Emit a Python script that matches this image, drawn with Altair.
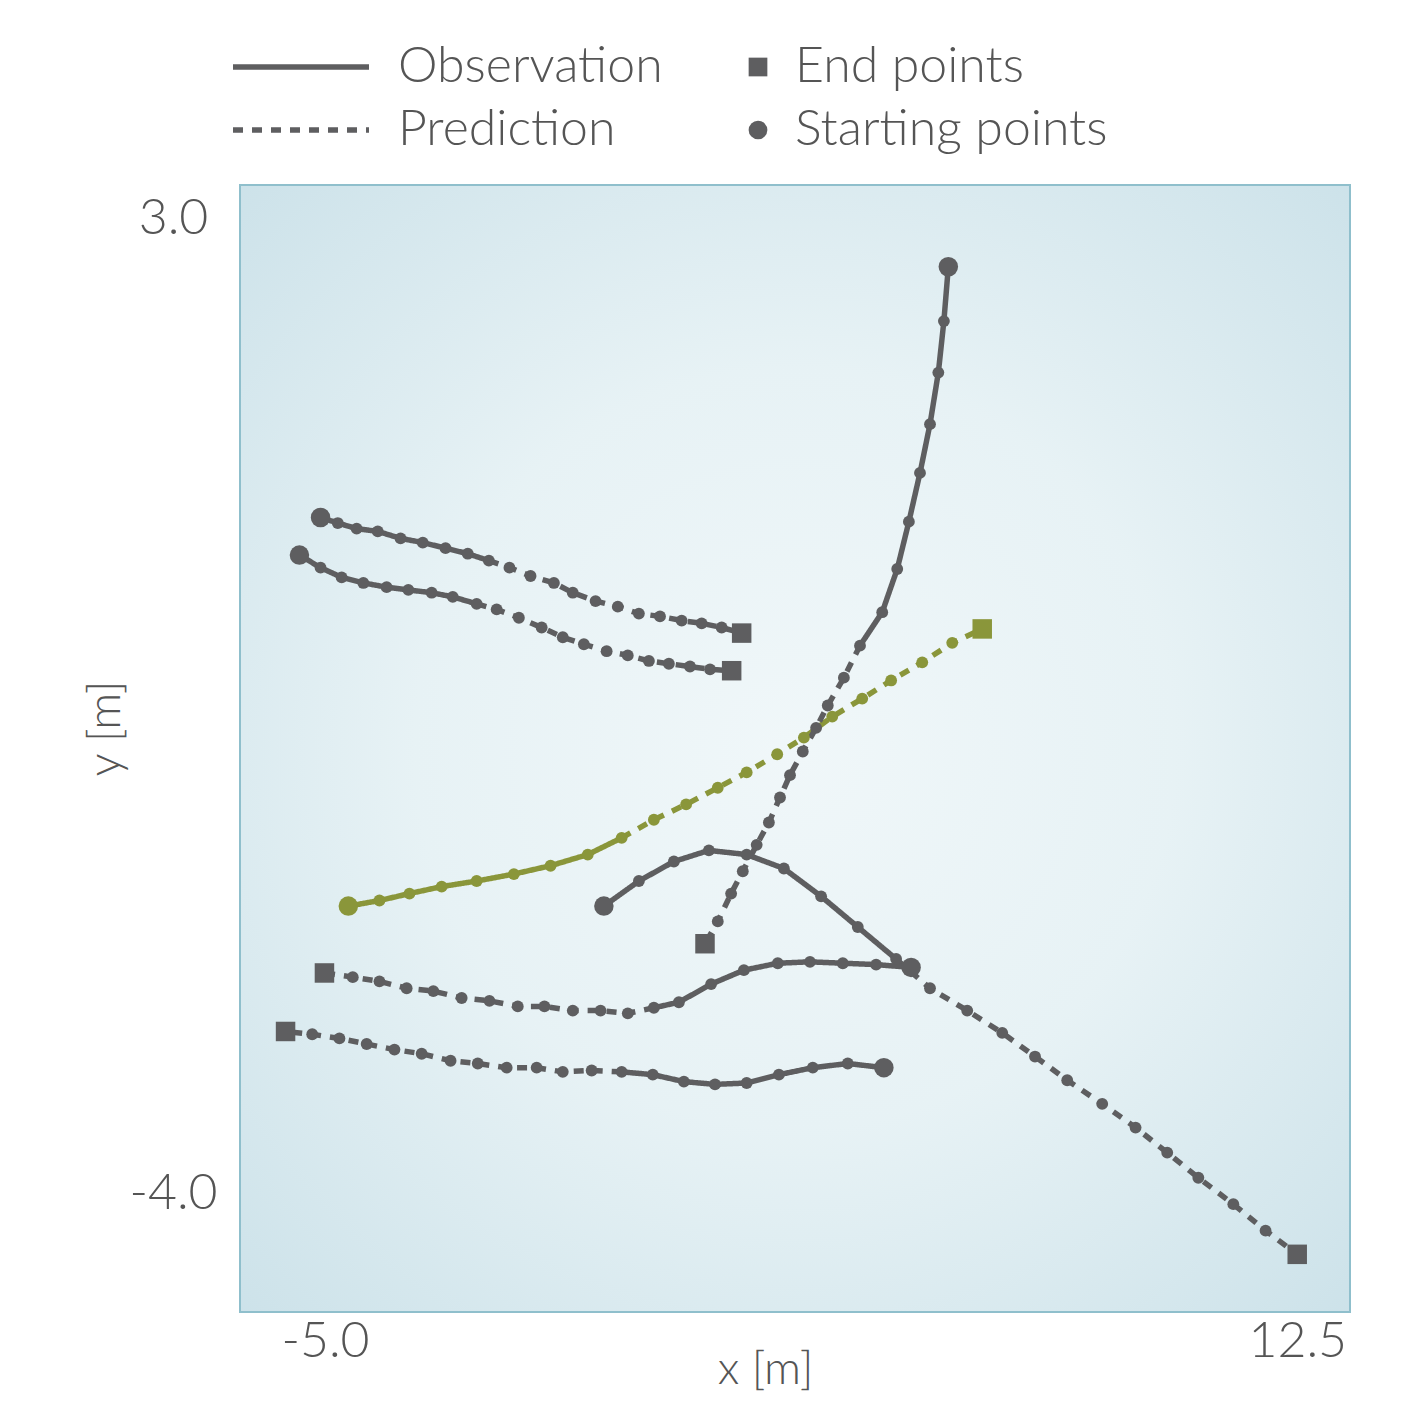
import altair as alt
import pandas as pd

GRAY = "#5e5e60"
GREEN = "#8a963a"
TEXT = "#555555"
FONT = "Lato"

# ---- trajectory data (metres) ----
# A: upper-left pair, upper
a_obs_x = [-5.08, -4.77, -4.43, -4.05, -3.64, -3.24, -2.83, -2.43, -2.05]
a_obs_y = [0.85, 0.81, 0.77, 0.75, 0.70, 0.67, 0.63, 0.59, 0.54]
a_pred_x = [-1.68, -1.30, -0.88, -0.54, -0.13, 0.27, 0.65, 1.03, 1.42, 1.78, 2.14, 2.50]
a_pred_y = [0.49, 0.43, 0.38, 0.31, 0.25, 0.21, 0.16, 0.14, 0.11, 0.09, 0.06, 0.02]
# B: upper-left pair, lower
b_obs_x = [-5.46, -5.08, -4.70, -4.31, -3.89, -3.50, -3.08, -2.70, -2.27]
b_obs_y = [0.58, 0.49, 0.42, 0.38, 0.35, 0.33, 0.31, 0.28, 0.23]
b_pred_x = [-1.91, -1.51, -1.10, -0.72, -0.34, 0.07, 0.45, 0.83, 1.19, 1.57, 1.93, 2.32]
b_pred_y = [0.19, 0.13, 0.06, -0.01, -0.06, -0.11, -0.14, -0.18, -0.20, -0.22, -0.24, -0.25]
# C: highlighted (green)
c_obs_x = [-4.58, -4.02, -3.48, -2.90, -2.27, -1.60, -0.94, -0.27, 0.34]
c_obs_y = [-1.94, -1.90, -1.85, -1.80, -1.76, -1.71, -1.65, -1.57, -1.45]
c_pred_x = [0.92, 1.50, 2.07, 2.59, 3.14, 3.62, 4.13, 4.67, 5.19, 5.75, 6.29, 6.83]
c_pred_y = [-1.32, -1.21, -1.09, -0.98, -0.85, -0.73, -0.58, -0.45, -0.32, -0.19, -0.05, 0.05]
# D: arc then long diagonal
d_obs_x = [0.02, 0.65, 1.28, 1.91, 2.59, 3.26, 3.93, 4.59, 5.28]
d_obs_y = [-1.94, -1.76, -1.62, -1.54, -1.57, -1.67, -1.87, -2.09, -2.32]
d_pred_x = [5.89, 6.56, 7.19, 7.78, 8.36, 8.99, 9.59, 10.16, 10.72, 11.35, 11.93, 12.50]
d_pred_y = [-2.53, -2.69, -2.85, -3.02, -3.19, -3.36, -3.53, -3.71, -3.89, -4.08, -4.27, -4.44]
# E: coming down from the top
e_obs_x = [6.22, 6.14, 6.04, 5.89, 5.71, 5.51, 5.30, 5.03, 4.63]
e_obs_y = [2.65, 2.26, 1.89, 1.52, 1.17, 0.82, 0.48, 0.17, -0.07]
e_pred_x = [4.34, 4.05, 3.84, 3.60, 3.37, 3.19, 2.99, 2.77, 2.52, 2.31, 2.07, 1.84]
e_pred_y = [-0.30, -0.50, -0.66, -0.83, -1.00, -1.16, -1.34, -1.50, -1.69, -1.85, -2.05, -2.21]
# F: middle lower, heading left
f_obs_x = [5.55, 4.92, 4.32, 3.73, 3.15, 2.54, 1.95, 1.37, 0.92]
f_obs_y = [-2.38, -2.36, -2.35, -2.34, -2.35, -2.40, -2.50, -2.63, -2.67]
f_pred_x = [0.45, -0.04, -0.54, -1.05, -1.53, -2.04, -2.54, -3.05, -3.53, -4.02, -4.50, -5.01]
f_pred_y = [-2.71, -2.69, -2.69, -2.66, -2.66, -2.62, -2.60, -2.55, -2.53, -2.48, -2.45, -2.42]
# G: bottom, heading left
g_obs_x = [5.06, 4.41, 3.78, 3.17, 2.59, 2.02, 1.46, 0.90, 0.34]
g_obs_y = [-3.10, -3.07, -3.10, -3.15, -3.21, -3.22, -3.20, -3.15, -3.13]
g_pred_x = [-0.20, -0.72, -1.19, -1.73, -2.25, -2.74, -3.26, -3.75, -4.25, -4.74, -5.23, -5.71]
g_pred_y = [-3.12, -3.13, -3.10, -3.10, -3.07, -3.05, -3.00, -2.97, -2.93, -2.89, -2.86, -2.84]

traj_names = ["A", "B", "C", "D", "E", "F", "G"]
traj_groups = ["other", "other", "focus", "other", "other", "other", "other"]
seg_names = ["Observation", "Prediction"]
marker_names = ["End points", "Starting points"]

x_ticks = [-5.0, 12.5]
y_ticks = [3.0, -4.0]

trajs = {
    "A": (a_obs_x, a_obs_y, a_pred_x, a_pred_y),
    "B": (b_obs_x, b_obs_y, b_pred_x, b_pred_y),
    "C": (c_obs_x, c_obs_y, c_pred_x, c_pred_y),
    "D": (d_obs_x, d_obs_y, d_pred_x, d_pred_y),
    "E": (e_obs_x, e_obs_y, e_pred_x, e_pred_y),
    "F": (f_obs_x, f_obs_y, f_pred_x, f_pred_y),
    "G": (g_obs_x, g_obs_y, g_pred_x, g_pred_y),
}

line_rows, dot_rows, mark_rows = [], [], []
for name, grp in zip(traj_names, traj_groups):
    ox, oy, px, py = trajs[name]
    for i, (x, y) in enumerate(zip(ox, oy)):
        line_rows.append(dict(key=name + "o", traj=name, seg=seg_names[0], order=i, x=x, y=y, group=grp))
    pxx = [ox[-1]] + px
    pyy = [oy[-1]] + py
    for i, (x, y) in enumerate(zip(pxx, pyy)):
        line_rows.append(dict(key=name + "p", traj=name, seg=seg_names[1], order=i, x=x, y=y, group=grp))
    allx = ox + px
    ally = oy + py
    for x, y in zip(allx[1:-1], ally[1:-1]):
        dot_rows.append(dict(traj=name, x=x, y=y, group=grp))
    mark_rows.append(dict(traj=name, x=ox[0], y=oy[0], group=grp, marker=marker_names[1]))
    mark_rows.append(dict(traj=name, x=px[-1], y=py[-1], group=grp, marker=marker_names[0]))

lines_df = pd.DataFrame(line_rows)
dots_df = pd.DataFrame(dot_rows)
marks_df = pd.DataFrame(mark_rows)

W, H = 1110, 1127

xscale = alt.Scale(domain=[-6.53, 13.45], nice=False, zero=False)
yscale = alt.Scale(domain=[-4.854, 3.237], nice=False, zero=False)
color_scale = alt.Scale(domain=["other", "focus"], range=[GRAY, GREEN])

label_expr = "(datum.value < 0 ? '-' : '') + format(abs(datum.value), '.1f')"

xaxis = alt.Axis(values=x_ticks, labelExpr=label_expr, title="x [m]", domain=False, ticks=False,
                 tickSize=0, grid=False, labelPadding=4, labelBaseline="top",
                 titleX=525, titleY=57, titleBaseline="middle")
yaxis = alt.Axis(values=y_ticks, labelExpr=label_expr, title="y [m]", domain=False, ticks=False,
                 tickSize=0, grid=False, labelAlign="center", labelBaseline="middle", labelPadding=67,
                 titleX=-135, titleY=543, titleBaseline="middle", titleAngle=-90)

bg = alt.Chart(alt.Data(values=[{"a": 1}])).mark_rect(
    color=alt.RadialGradient(
        gradient="radial", x1=0.5, y1=0.5, r1=0, x2=0.5, y2=0.5, r2=0.75,
        stops=[alt.GradientStop(offset=0, color="#f0f7f9"),
               alt.GradientStop(offset=0.45, color="#e7f2f5"),
               alt.GradientStop(offset=1, color="#c9e0e8")]),
    stroke="#8fbfcc", strokeWidth=2,
).encode(x=alt.value(0), x2=alt.value(W), y=alt.value(0), y2=alt.value(H))

lines = alt.Chart(lines_df).mark_line(strokeWidth=5.5).encode(
    x=alt.X("x:Q", scale=xscale, axis=xaxis),
    y=alt.Y("y:Q", scale=yscale, axis=yaxis),
    detail="key:N",
    order="order:Q",
    color=alt.Color("group:N", scale=color_scale, legend=None),
    strokeDash=alt.StrokeDash(
        "seg:N",
        scale=alt.Scale(domain=seg_names, range=[[1, 0], [10, 9]]),
        legend=alt.Legend(title=None, orient="none", legendX=36, legendY=-143, direction="vertical",
                          symbolType="M-4,0H4", symbolSize=34 * 34, symbolStrokeWidth=5.5,
                          symbolStrokeColor=GRAY, symbolFillColor=GRAY,
                          labelFont=FONT, labelFontSize=50, labelLimit=0,
                          labelFontWeight=300, labelColor=TEXT, labelOffset=72, rowPadding=13,
                          padding=0),
    ),
)

dots = alt.Chart(dots_df).mark_circle(size=140, opacity=1).encode(
    x="x:Q", y="y:Q",
    color=alt.Color("group:N", scale=color_scale, legend=None),
)

markers = alt.Chart(marks_df).mark_point(filled=True, opacity=1, size=380).encode(
    x="x:Q", y="y:Q",
    color=alt.Color("group:N", scale=color_scale, legend=None),
    shape=alt.Shape(
        "marker:N",
        scale=alt.Scale(domain=marker_names, range=["square", "circle"]),
        legend=alt.Legend(title=None, orient="none", legendX=493, legendY=-143, direction="vertical",
                          symbolSize=350, symbolFillColor=GRAY, symbolStrokeWidth=0,
                          labelFont=FONT, labelFontSize=50, labelFontWeight=300, labelColor=TEXT,
                          labelLimit=0, labelOffset=12, rowPadding=13, padding=0),
    ),
)

chart = alt.layer(bg, lines, dots, markers).properties(
    width=W, height=H,
    autosize=alt.AutoSizeParams(type="none"),
    padding={"left": 232, "top": 177, "right": 52, "bottom": 86},
).configure_view(stroke=None).configure_axis(
    labelFont=FONT, labelFontSize=50, labelFontWeight=300, labelColor=TEXT,
    titleFont=FONT, titleFontSize=46, titleFontWeight=300, titleColor=TEXT,
).resolve_scale(color="shared")

chart.save("out.html", embed_options={"renderer": "svg", "actions": False})
